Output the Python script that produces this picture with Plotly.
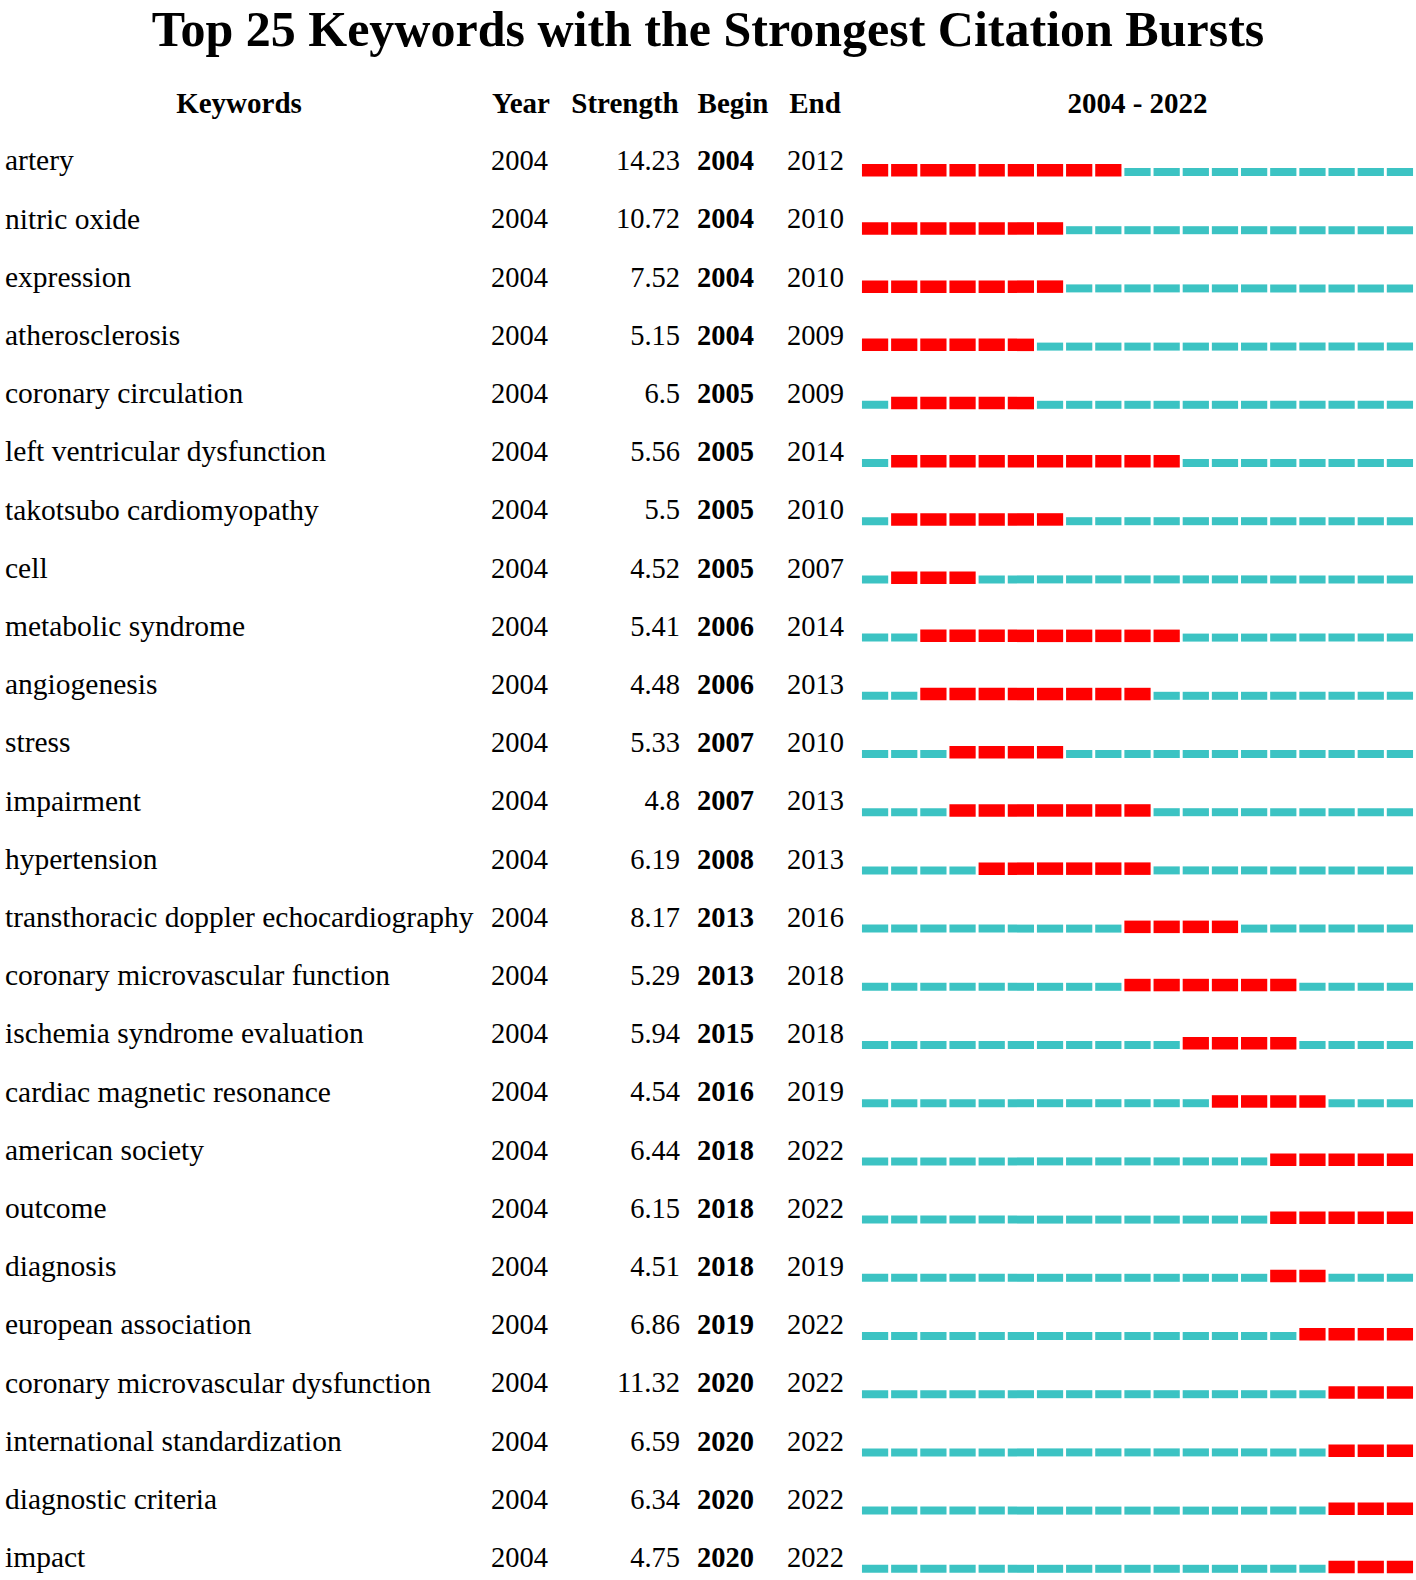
import plotly.graph_objects as go

keywords = ["artery", "nitric oxide", "expression", "atherosclerosis", "coronary circulation",
            "left ventricular dysfunction", "takotsubo cardiomyopathy", "cell", "metabolic syndrome",
            "angiogenesis", "stress", "impairment", "hypertension",
            "transthoracic doppler echocardiography", "coronary microvascular function",
            "ischemia syndrome evaluation", "cardiac magnetic resonance", "american society",
            "outcome", "diagnosis", "european association", "coronary microvascular dysfunction",
            "international standardization", "diagnostic criteria", "impact"]
year = [2004] * 25
strength = [14.23, 10.72, 7.52, 5.15, 6.5, 5.56, 5.5, 4.52, 5.41, 4.48, 5.33, 4.8, 6.19,
            8.17, 5.29, 5.94, 4.54, 6.44, 6.15, 4.51, 6.86, 11.32, 6.59, 6.34, 4.75]
begin = [2004, 2004, 2004, 2004, 2005, 2005, 2005, 2005, 2006, 2006, 2007, 2007, 2008,
         2013, 2013, 2015, 2016, 2018, 2018, 2018, 2019, 2020, 2020, 2020, 2020]
end = [2012, 2010, 2010, 2009, 2009, 2014, 2010, 2007, 2014, 2013, 2010, 2013, 2013,
       2016, 2018, 2018, 2019, 2022, 2022, 2019, 2022, 2022, 2022, 2022, 2022]
first_year, last_year = 2004, 2022

RED = "#FF0000"
CYAN = "#3CC3C3"
FONT = "Liberation Serif"
W, H = 1416, 1580
ROW_PX = 58.2
TOP_PX = 163

rows = list(range(len(keywords)))

# split every row into burst / non-burst year segments
red_y, red_x = [], []
cyan_y, cyan_x = [], []
for i in rows:
    for yr in range(first_year, last_year + 1):
        if begin[i] <= yr <= end[i]:
            red_y.append(i)
            red_x.append(yr - 0.45)
        else:
            cyan_y.append(i)
            cyan_x.append(yr - 0.45)

fig = go.Figure()
fig.add_trace(go.Bar(y=cyan_y, x=[0.9] * len(cyan_x), base=cyan_x, orientation="h",
                     marker=dict(color=CYAN, line=dict(width=0)),
                     width=8 / ROW_PX, offset=5 / ROW_PX,
                     xaxis="x2", yaxis="y", hoverinfo="skip", showlegend=False))
fig.add_trace(go.Bar(y=red_y, x=[0.9] * len(red_x), base=red_x, orientation="h",
                     marker=dict(color=RED, line=dict(width=0)),
                     width=12.5 / ROW_PX, offset=1 / ROW_PX,
                     xaxis="x2", yaxis="y", hoverinfo="skip", showlegend=False))


def col(xpos, vals, pos, size, bold=False):
    t = ["<b>%s</b>" % v for v in vals] if bold else [str(v) for v in vals]
    fig.add_trace(go.Scatter(x=[xpos] * len(vals), y=rows, mode="text", text=t,
                             textposition=pos,
                             textfont=dict(family=FONT, size=size, color="black"),
                             hoverinfo="skip", showlegend=False))


col(5, keywords, "middle right", 29.5)
col(491, year, "middle right", 28.5)
col(680, strength, "middle left", 28.5)
col(697, begin, "middle right", 28.5, bold=True)
col(787, end, "middle right", 28.5)

# header row
hy = (106 - TOP_PX) / ROW_PX
heads = ["Keywords", "Year", "Strength", "Begin", "End"]
head_x = [239, 521, 625, 733, 815]
head_font = dict(family=FONT, size=29, color="black")
fig.add_trace(go.Scatter(x=head_x, y=[hy] * len(heads), mode="text",
                         text=["<b>%s</b>" % h for h in heads], textposition="middle center",
                         textfont=head_font, hoverinfo="skip", showlegend=False))
fig.add_trace(go.Scatter(x=[(first_year + last_year) / 2], y=[hy], mode="text",
                         text=["<b>%d - %d</b>" % (first_year, last_year)],
                         textposition="middle center", textfont=head_font,
                         xaxis="x2", yaxis="y", hoverinfo="skip", showlegend=False))

fig.update_layout(
    width=W, height=H,
    margin=dict(l=0, r=0, t=0, b=0),
    paper_bgcolor="white", plot_bgcolor="rgba(0,0,0,0)",
    barmode="overlay",
    title=dict(text="<b>Top 25 Keywords with the Strongest Citation Bursts</b>",
               x=0.5, xanchor="center", y=1 - 28 / H, yanchor="middle",
               font=dict(family=FONT, size=50, color="black")),
    xaxis=dict(range=[0, W], domain=[0, 1], visible=False, fixedrange=True),
    xaxis2=dict(range=[first_year - 0.5, last_year + 0.5],
                domain=[860.5 / W, 1414.5 / W], anchor="y", visible=False),
    yaxis=dict(range=[(H - TOP_PX) / ROW_PX, -TOP_PX / ROW_PX], visible=False),
)

# drop the browser's default body margin so the figure sits at the page corner
fig.write_html("out.html", config={"displayModeBar": False},
               post_script="document.body.style.margin='0';")
